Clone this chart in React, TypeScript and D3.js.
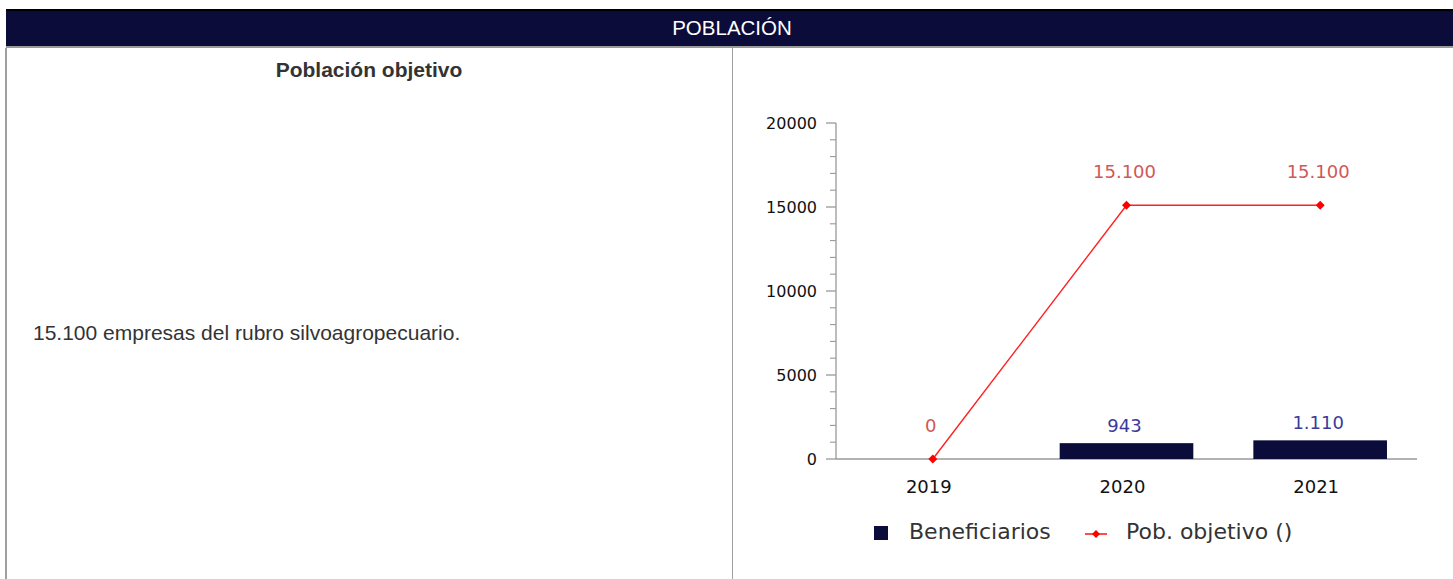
import React from "react";
import * as d3 from "d3";

const years = ["2019", "2020", "2021"];
const beneficiarios = [null, 943, 1110];
const pobObjetivo = [0, 15100, 15100];
const yTicks = [0, 5000, 10000, 15000, 20000];
const title = "POBLACIÓN";
const leftTitle = "Población objetivo";
const leftText = "15.100 empresas del rubro silvoagropecuario.";
const legendLabels = ["Beneficiarios", "Pob. objetivo ()"];

const W = 1453;
const H = 579;
const esLocale = d3.formatLocale({ decimal: ",", thousands: ".", grouping: [3], currency: ["$", ""] });
const fmt = esLocale.format(",d");

export default function App() {
  const y = d3.scaleLinear().domain([0, 20000]).range([459, 123]);
  const x = d3.scaleBand<string>().domain(years).range([836, 1417]).paddingInner(0.31).paddingOuter(0.155);
  const minor = d3.range(0, 20001, 1000).filter((v) => v % 5000 !== 0);
  const cx = (d: string) => (x(d) as number) + x.bandwidth() / 2;
  const linePts = years.map((d, i) => [cx(d), y(pobObjetivo[i])] as [number, number]);
  const line = d3.line()(linePts) as string;
  const chartFont = "DejaVu Sans, sans-serif";
  const htmlFont = "Liberation Sans, Arial, sans-serif";
  const diamond = (px: number, py: number, r: number) =>
    `M${px},${py - r}L${px + r},${py}L${px},${py + r}L${px - r},${py}Z`;

  return (
    <div style={{ position: "absolute", left: 0, top: 0, width: W, height: H }}>
      <svg width={W} height={H} style={{ display: "block" }}>
        <rect x={0} y={0} width={W} height={H} fill="#fff" />
        {/* header */}
        <rect x={6} y={9} width={W - 6} height={2} fill="#000" />
        <rect x={6} y={11} width={W - 6} height={35} fill="#0c0c3a" />
        <rect x={6} y={46} width={W - 6} height={2} fill="#9a9a9a" />
        <text x={732} y={35} textAnchor="middle" fill="#fff" fontFamily={htmlFont} fontSize={20.5}>
          {title}
        </text>
        {/* table borders */}
        <rect x={5} y={48} width={2} height={H - 48} fill="#a0a0a0" />
        <rect x={732} y={48} width={1} height={H - 48} fill="#a0a0a0" />
        <text x={369} y={77} textAnchor="middle" fill="#333" fontWeight="bold" fontFamily={htmlFont} fontSize={21}>
          {leftTitle}
        </text>
        <text x={33} y={340} fill="#333" fontFamily={htmlFont} fontSize={21}>
          {leftText}
        </text>

        {/* y axis */}
        <line x1={836} x2={836} y1={y(20000)} y2={y(0)} stroke="#999" strokeWidth={1.3} />
        {yTicks.map((t) => (
          <g key={t}>
            <line x1={826} x2={836} y1={y(t)} y2={y(t)} stroke="#999" strokeWidth={1.3} />
            <text x={817} y={y(t) + 6} textAnchor="end" fontFamily={chartFont} fontSize={16} fill="#111">
              {t}
            </text>
          </g>
        ))}
        {minor.map((t) => (
          <line key={t} x1={830} x2={836} y1={y(t)} y2={y(t)} stroke="#999" strokeWidth={1.1} />
        ))}
        {/* x axis */}
        <line x1={836} x2={1417} y1={y(0)} y2={y(0)} stroke="#999" strokeWidth={1.3} />
        {years.map((d) => (
          <text key={d} x={cx(d) - 4} y={493} textAnchor="middle" fontFamily={chartFont} fontSize={18} fill="#111">
            {d}
          </text>
        ))}

        {/* bars */}
        {years.map((d, i) => {
          const v = beneficiarios[i];
          if (v == null) return null;
          return (
            <g key={d}>
              <rect x={x(d)} y={y(v)} width={x.bandwidth()} height={y(0) - y(v)} fill="#0c0c3a" />
              <text x={cx(d) - 2} y={y(v) - 11} textAnchor="middle" fontFamily={chartFont} fontSize={18} fill="#3a3a9a">
                {fmt(v)}
              </text>
            </g>
          );
        })}

        {/* line */}
        <path d={line} fill="none" stroke="#ff2020" strokeWidth={1.4} />
        {linePts.map(([px, py], i) => (
          <g key={i}>
            <path d={diamond(px, py, 4.5)} fill="#ff0000" />
            <text x={px - 2} y={py - 27} textAnchor="middle" fontFamily={chartFont} fontSize={18} fill="#d05858">
              {fmt(pobObjetivo[i])}
            </text>
          </g>
        ))}

        {/* legend */}
        <rect x={874} y={526} width={14} height={14} fill="#0c0c3a" />
        <text x={909} y={539} fontFamily={chartFont} fontSize={22} fill="#333">
          {legendLabels[0]}
        </text>
        <line x1={1085} x2={1107} y1={534} y2={534} stroke="#ff2020" strokeWidth={1.6} />
        <path d={diamond(1096, 534, 4)} fill="#ff0000" />
        <text x={1126} y={539} fontFamily={chartFont} fontSize={22} fill="#333">
          {legendLabels[1]}
        </text>
      </svg>
    </div>
  );
}
